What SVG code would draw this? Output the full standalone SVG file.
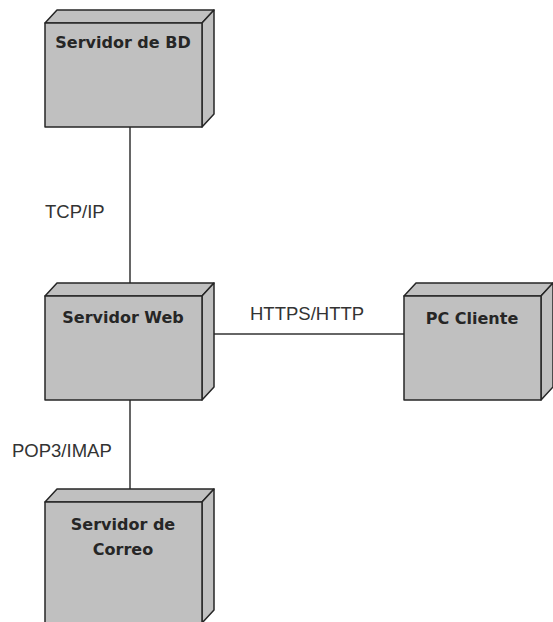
<svg xmlns="http://www.w3.org/2000/svg" width="553" height="622" viewBox="0 0 553 622">
<style>
.face{fill:#c0c0c0;stroke:#262626;stroke-width:1.5;stroke-linejoin:round}
.title{font-family:"DejaVu Sans",sans-serif;font-weight:bold;font-size:16px;fill:#262626;text-anchor:middle}
.lbl{font-family:"Liberation Sans",Arial,sans-serif;font-size:18.5px;fill:#333}
.conn{stroke:#333;stroke-width:1.5;fill:none}
</style>
<rect width="553" height="622" fill="#fff"/>
<g id="connectors">
<line class="conn" x1="130" y1="127" x2="130" y2="283"/>
<line class="conn" x1="214" y1="334" x2="404" y2="334"/>
<line class="conn" x1="130" y1="400" x2="130" y2="489"/>
<text class="lbl" x="45" y="218">TCP/IP</text>
<text class="lbl" x="250" y="320">HTTPS/HTTP</text>
<text class="lbl" x="12" y="457">POP3/IMAP</text>
</g>
<g id="servidor-bd">
<polygon class="face" points="45,23 57,10 214,10 202,23"/>
<polygon class="face" points="202,23 214,10 214,114 202,127"/>
<rect class="face" x="45" y="23" width="157" height="104"/>
<text class="title" x="123" y="48">Servidor de BD</text>
</g>
<g id="servidor-web">
<polygon class="face" points="45,296 57,283 214,283 202,296"/>
<polygon class="face" points="202,296 214,283 214,387 202,400"/>
<rect class="face" x="45" y="296" width="157" height="104"/>
<text class="title" x="123" y="323">Servidor Web</text>
</g>
<g id="pc-cliente">
<polygon class="face" points="404,296 416,283 553,283 541,296"/>
<polygon class="face" points="541,296 553,283 553,387 541,400"/>
<rect class="face" x="404" y="296" width="137" height="104"/>
<text class="title" x="472" y="324">PC Cliente</text>
</g>
<g id="servidor-correo">
<polygon class="face" points="45,502 57,489 214,489 202,502"/>
<polygon class="face" points="202,502 214,489 214,610 202,623"/>
<rect class="face" x="45" y="502" width="157" height="121"/>
<text class="title" x="123" y="530">Servidor de</text>
<text class="title" x="123" y="555">Correo</text>
</g>
</svg>
